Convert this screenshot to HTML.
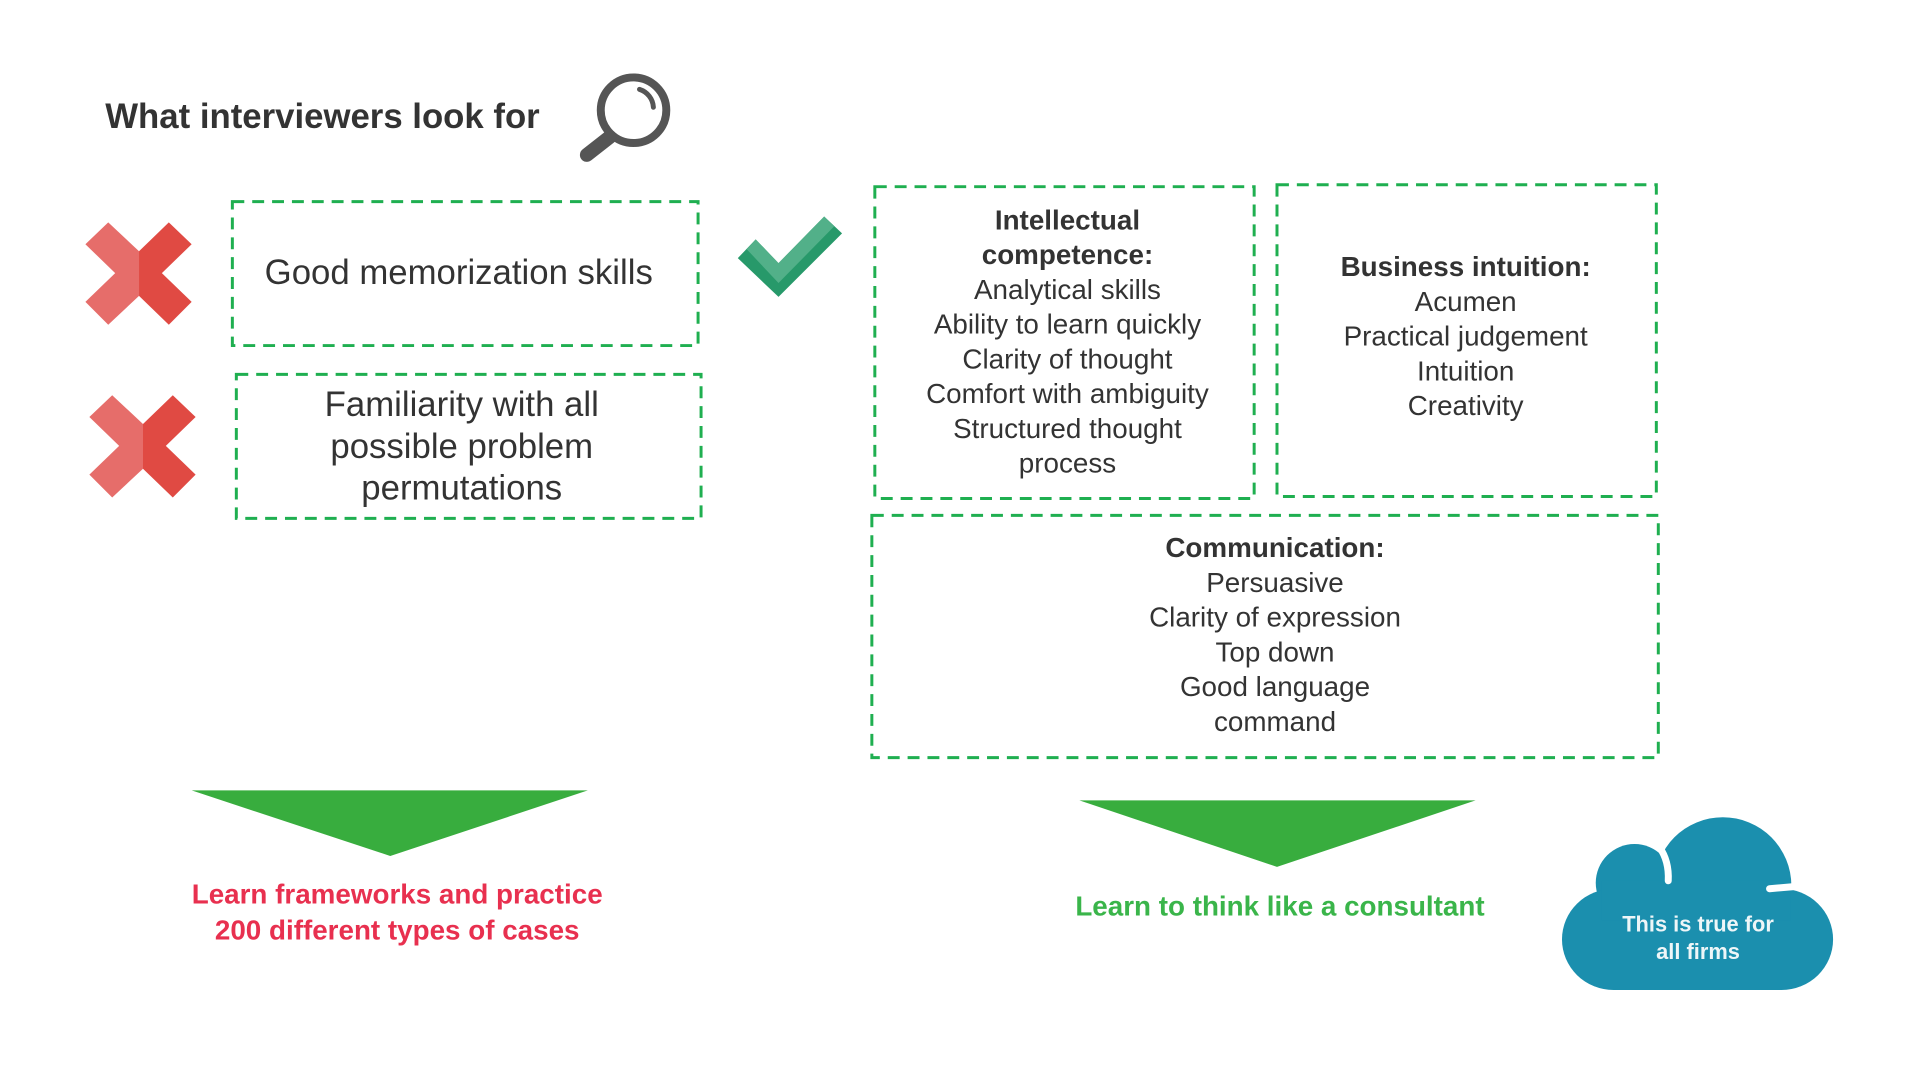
<!DOCTYPE html>
<html><head><meta charset="utf-8"><style>
html,body{margin:0;padding:0;background:#fff;}
svg{display:block;}
text{font-family:"Liberation Sans",sans-serif;}
</style></head><body>
<svg width="1920" height="1080" viewBox="0 0 1920 1080" xmlns="http://www.w3.org/2000/svg">
<g transform="scale(0.993)">
<text x="106" y="129" font-size="35" font-weight="bold" fill="#333">What interviewers look for</text>
<circle cx="638" cy="111" r="33" fill="none" stroke="#555" stroke-width="8"/>
<path d="M644 90 A20 20 0 0 1 658 108" fill="none" stroke="#555" stroke-width="5" stroke-linecap="round"/>
<line x1="614" y1="138" x2="591" y2="156" stroke="#555" stroke-width="14" stroke-linecap="round"/>

<g transform="translate(86,224)">
<polygon points="23,0 54,29 54,74 23,103 0,80 30,51 0,22" fill="#e66d6a"/>
<polygon points="54,29 84,0 107,22 77,51 107,80 84,103 54,74" fill="#e04a43"/>
</g>
<g transform="translate(90,398)">
<polygon points="23,0 54,29 54,74 23,103 0,80 30,51 0,22" fill="#e66d6a"/>
<polygon points="54,29 84,0 107,22 77,51 107,80 84,103 54,74" fill="#e04a43"/>
</g>

<polygon points="743,260 761,241 784,265 830,218 848,235 784,299" fill="#27996a"/>
<polygon points="761,241 784,265 830,218 840,228 784,285 752,251" fill="#52b089"/>

<g fill="none" stroke="#1faf50" stroke-width="3" stroke-dasharray="12 8">
<rect x="234" y="203" width="469" height="145"/>
<rect x="238" y="377" width="468" height="145"/>
<rect x="881" y="188" width="382" height="314"/>
<rect x="1286" y="186" width="382" height="314"/>
<rect x="878" y="519" width="792" height="244"/>
</g>

<g font-size="35" fill="#333" text-anchor="middle">
<text x="462" y="286">Good memorization skills</text>
<text x="465" y="419">Familiarity with all</text>
<text x="465" y="461">possible problem</text>
<text x="465" y="503">permutations</text>
</g>

<g font-size="28" fill="#333" text-anchor="middle">
<text x="1075" y="231" font-weight="bold">Intellectual</text>
<text x="1075" y="266" font-weight="bold">competence:</text>
<text x="1075" y="301">Analytical skills</text>
<text x="1075" y="336">Ability to learn quickly</text>
<text x="1075" y="371">Clarity of thought</text>
<text x="1075" y="406">Comfort with ambiguity</text>
<text x="1075" y="441">Structured thought</text>
<text x="1075" y="476">process</text>

<text x="1476" y="278" font-weight="bold">Business intuition:</text>
<text x="1476" y="313">Acumen</text>
<text x="1476" y="348">Practical judgement</text>
<text x="1476" y="383">Intuition</text>
<text x="1476" y="418">Creativity</text>

<text x="1284" y="561" font-weight="bold">Communication:</text>
<text x="1284" y="596">Persuasive</text>
<text x="1284" y="631">Clarity of expression</text>
<text x="1284" y="666">Top down</text>
<text x="1284" y="701">Good language</text>
<text x="1284" y="736">command</text>
</g>

<polygon points="193,796 592,796 393,862" fill="#38ad3e"/>
<polygon points="1087,806 1486,806 1286,873" fill="#38ad3e"/>

<g font-size="28" font-weight="bold" text-anchor="middle">
<text x="400" y="910" fill="#e8304f">Learn frameworks and practice</text>
<text x="400" y="946" fill="#e8304f">200 different types of cases</text>
<text x="1289" y="922" fill="#3ab54a">Learn to think like a consultant</text>
</g>

<g transform="translate(13,7)">
<g fill="#1b8fae">
<circle cx="1722" cy="885" r="69"/>
<circle cx="1633" cy="882" r="39"/>
<rect x="1560" y="888" width="273" height="102" rx="52"/>
<rect x="1600" y="880" width="190" height="40"/>
</g>
<path d="M1658 846 Q1668 860 1667 880" fill="none" stroke="#fff" stroke-width="7" stroke-linecap="round"/>
<line x1="1769" y1="888" x2="1792" y2="886" stroke="#fff" stroke-width="7" stroke-linecap="round"/>
<g font-size="22" font-weight="bold" fill="#eef6f8" text-anchor="middle">
<text x="1697" y="931">This is true for</text>
<text x="1697" y="959">all firms</text>
</g>
</g>
</g>
</svg>
</body></html>
